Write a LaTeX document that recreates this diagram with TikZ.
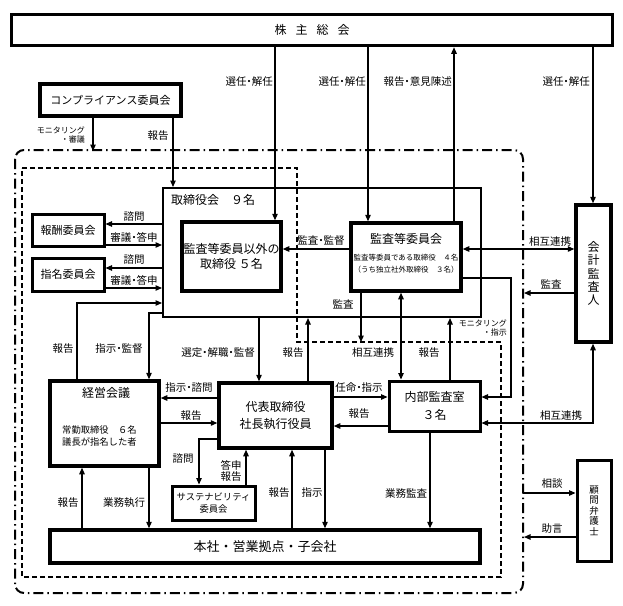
\documentclass[tikz,border=0pt]{standalone}
\usepackage{fontspec}
\setmainfont{Noto Sans CJK JP}
\usetikzlibrary{arrows.meta}
\newcommand\jdot{\kern-.25em・\kern-.25em}
\begin{document}
\begin{tikzpicture}[x=1pt,y=-1pt,
  box/.style={draw, line width=3pt, fill=white, inner sep=0pt},
  thinbox/.style={draw, line width=2pt, inner sep=0pt},
  arr/.style={line width=1.2pt, -{Triangle[length=6.5pt,width=5.5pt]}},
  darr/.style={line width=1.2pt, {Triangle[length=6.5pt,width=5.5pt]}-{Triangle[length=6.5pt,width=5.5pt]}},
  lbl/.style={inner sep=0pt, font=\fontsize{10.5}{12}\selectfont},
  sml/.style={inner sep=0pt, font=\fontsize{7.5}{9}\selectfont},
  tiny/.style={inner sep=0pt, font=\fontsize{8}{9}\selectfont},
  big/.style={inner sep=0pt, font=\fontsize{12}{14}\selectfont},
  dashdotline/.style={line width=2pt, dash pattern=on 10pt off 4pt on 1.5pt off 4pt},
  dashline/.style={line width=1.5pt, dash pattern=on 5pt off 3pt},
]
\useasboundingbox (0,0) rectangle (623,605);

% group borders
\draw[dashdotline, rounded corners=9pt] (15,150) rectangle (523,593);
\draw[dashline] (22,168) -- (297,168) -- (297,342) -- (501,342) -- (501,577) -- (22,577) -- cycle;

% boxes
\node[box, line width=3.5pt, minimum width=601pt, minimum height=31pt, font=\fontsize{12}{14}\selectfont] (soukai) at (312,30) {株\hspace{9pt}主\hspace{9pt}総\hspace{9pt}会};
\node[box, line width=4pt, minimum width=141pt, minimum height=32pt, font=\fontsize{11}{13}\selectfont] (comp) at (110.5,100) {コンプライアンス委員会};
\node[thinbox, minimum width=318pt, minimum height=129pt] (tori) at (322,252.5) {};
\node[big, anchor=west] (toril) at (171,200) {取締役会　９名};
\node[box, line width=3.5pt, minimum width=99pt, minimum height=69pt, align=center, font=\fontsize{12}{15}\selectfont] (igai) at (231.5,256.5) {監査等委員以外の\\取締役\ ５名};
\node[box, line width=3.5pt, minimum width=110pt, minimum height=68pt] (iinkai) at (406,257) {};
\node[big] (iinkait) at (406,239) {監査等委員会};
\node[sml] (iinkaia) at (406,258) {監査等委員である取締役　４名};
\node[sml] (iinkaib) at (406,270) {（うち独立社外取締役　３名）};
\node[box, minimum width=72pt, minimum height=32pt, font=\fontsize{11}{13}\selectfont] (hoshu) at (68,230) {報酬委員会};
\node[box, minimum width=72pt, minimum height=33pt, font=\fontsize{11}{13}\selectfont] (shimei) at (68,274.5) {指名委員会};
\node[box, line width=3.5pt, minimum width=35pt, minimum height=137pt, align=center, font=\fontsize{12}{13.25}\selectfont] (kaikei) at (593.5,273.5) {会\\計\\監\\査\\人};
\node[box, minimum width=91pt, minimum height=50pt, align=center, font=\fontsize{12}{18}\selectfont] (naibu) at (434.5,406) {内部監査室\\３名};
\node[box, line width=3.5pt, minimum width=109pt, minimum height=85pt] (keiei) at (104.5,423.5) {};
\node[big] (keieit) at (106,393) {経営会議};
\node[inner sep=0pt, anchor=west, align=left, font=\fontsize{9.3}{12}\selectfont] (keieim) at (62,436) {常勤取締役　６名\\議長が指名した者};
\node[box, line width=3.5pt, minimum width=113pt, minimum height=65pt, align=center, font=\fontsize{12}{17}\selectfont] (daihyo) at (275.5,415.5) {代表取締役\\社長執行役員};
\node[box, minimum width=83pt, minimum height=34pt, align=center, font=\fontsize{9.3}{12}\selectfont] (sus) at (213.5,503) {サステナビリティ\\委員会};
\node[box, line width=3.5pt, minimum width=430pt, minimum height=33pt, font=\fontsize{13}{15}\selectfont] (honsha) at (265,546.5) {本社・営業拠点・子会社};
\node[box, minimum width=34pt, minimum height=101pt, align=center, font=\fontsize{9.5}{10.5}\selectfont] (komon) at (594,510.5) {顧\\問\\弁\\護\\士};

% connectors
\draw[arr] (comp.south -| 93,0) -- (93,151) coordinate (mon);
\draw[arr] (comp.south -| 173,0) -- (tori.north -| 173,0);
\draw[arr] (soukai.south -| 275,0) -- (igai.north -| 275,0);
\draw[arr] (soukai.south -| 368,0) -- (iinkai.north -| 368,0);
\draw[arr] (iinkai.north -| 454,0) -- (soukai.south -| 454,0);
\draw[arr] (soukai.south -| 593,0) -- (kaikei.north -| 593,0);
\draw[arr] (tori.west |- 0,224) -- (hoshu.east |- 0,224);
\draw[arr] (hoshu.east |- 0,245) -- (tori.west |- 0,245);
\draw[arr] (tori.west |- 0,268) -- (shimei.east |- 0,268);
\draw[arr] (shimei.east |- 0,288) -- (tori.west |- 0,288);
\draw[arr] (iinkai.west |- 0,249) -- (igai.east |- 0,249);
\draw[darr] (iinkai.east |- 0,249) -- (kaikei.west |- 0,249);
\draw[arr] (kaikei.west |- 0,293) -- (524,293) coordinate (kansa);
\draw[arr] (iinkai.east |- 0,278) -- (511,278) -- (511,397) -- (naibu.east |- 0,397);
\draw[darr] (naibu.east |- 0,423) -- (593,423) -- (kaikei.south -| 593,0);
\draw[arr] (523,493) coordinate (soudan) -- (komon.west |- 0,493);
\draw[arr] (komon.west |- 0,537) -- (524,537) coordinate (jogen);
\draw[arr] (keiei.north -| 77,0) -- (77,303) -- (tori.west |- 0,303);
\draw[arr] (tori.west |- 0,313) -- (149,313) -- (keiei.north -| 149,0);
\draw[arr] (tori.south -| 259,0) -- (daihyo.north -| 259,0);
\draw[arr] (daihyo.north -| 308,0) -- (tori.south -| 308,0);
\draw[arr] (iinkai.south -| 361,0) -- (361,342) coordinate (kansa2);
\draw[darr] (iinkai.south -| 401,0) -- (naibu.north -| 401,0);
\draw[arr] (naibu.north -| 450,0) -- (tori.south -| 450,0);
\draw[arr] (daihyo.west |- 0,398) -- (keiei.east |- 0,398);
\draw[arr] (keiei.east |- 0,423) -- (daihyo.west |- 0,423);
\draw[arr] (daihyo.east |- 0,397) -- (naibu.west |- 0,397);
\draw[arr] (naibu.west |- 0,426) -- (daihyo.east |- 0,426);
\draw[arr] (daihyo.west |- 0,439) -- (199,439) -- (sus.north -| 199,0);
\draw[arr] (sus.north -| 246,0) -- (daihyo.south -| 246,0);
\draw[arr] (honsha.north -| 292,0) -- (daihyo.south -| 292,0);
\draw[arr] (daihyo.south -| 325,0) -- (honsha.north -| 325,0);
\draw[arr] (naibu.south -| 430,0) -- (honsha.north -| 430,0);
\draw[arr] (honsha.north -| 82,0) -- (keiei.south -| 82,0);
\draw[arr] (keiei.south -| 149,0) -- (honsha.north -| 149,0);

% labels
\node[lbl, anchor=east] (t1) at (273,82) {選任\jdot 解任};
\node[lbl, anchor=east] (t2) at (366,82) {選任\jdot 解任};
\node[lbl, anchor=east] (t3) at (452,82) {報告\jdot 意見陳述};
\node[lbl, anchor=east] (t4) at (590,82) {選任\jdot 解任};
\node[tiny, anchor=east] (c1) at (85,130) {モニタリング};
\node[tiny, anchor=east] (c2) at (85,139) {・審議};
\node[lbl] (c3) at (158,136) {報告};
\node[lbl] (h1) at (134,217) {諮問};
\node[lbl] (h2) at (134,237) {審議\jdot 答申};
\node[lbl] (h3) at (134,260) {諮問};
\node[lbl] (h4) at (134,280) {審議\jdot 答申};
\node[lbl] (k1) at (321,241) {監査\jdot 監督};
\node[lbl] (k2) at (550,242) {相互連携};
\node[lbl] (k3) at (551,284) {監査};
\node[lbl] (k4) at (343,304) {監査};
\node[tiny, anchor=east] (m1) at (507,323) {モニタリング};
\node[tiny, anchor=east] (m2) at (507,332) {・指示};
\node[lbl] (r1) at (63,349) {報告};
\node[lbl] (r2) at (119,349) {指示\jdot 監督};
\node[lbl] (r3) at (218,353) {選定\jdot 解職\jdot 監督};
\node[lbl] (r4) at (293,353) {報告};
\node[lbl] (r5) at (373,353) {相互連携};
\node[lbl] (r6) at (429,353) {報告};
\node[lbl] (d1) at (189,388) {指示\jdot 諮問};
\node[lbl] (d2) at (191,416) {報告};
\node[lbl] (d3) at (359,388) {任命\jdot 指示};
\node[lbl] (d4) at (359,414) {報告};
\node[lbl] (d5) at (561,416) {相互連携};
\node[lbl] (s1) at (183,459) {諮問};
\node[lbl] (s2) at (231,465) {答申};
\node[lbl] (s3) at (231,477) {報告};
\node[lbl] (b1) at (68,503) {報告};
\node[lbl] (b2) at (124,503) {業務執行};
\node[lbl] (b3) at (279,493) {報告};
\node[lbl] (b4) at (312,493) {指示};
\node[lbl] (b5) at (406,493) {業務監査};
\node[lbl] (a1) at (552,484) {相談};
\node[lbl] (a2) at (552,529) {助言};
\end{tikzpicture}
\end{document}
